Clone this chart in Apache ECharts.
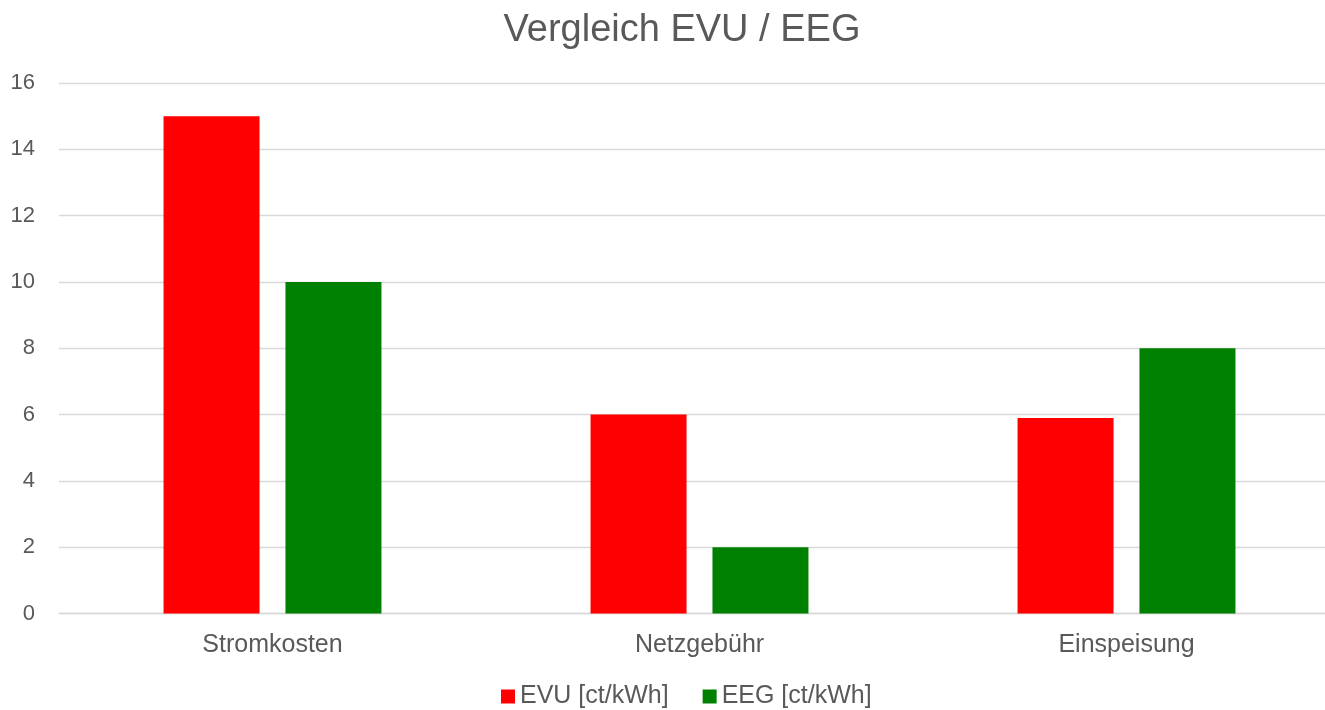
<!DOCTYPE html>
<html>
<head>
<meta charset="utf-8">
<script src="https://cdn.jsdelivr.net/npm/echarts@6/dist/echarts.min.js"></script>
<style>html,body{margin:0;padding:0;background:#fff}#c{width:1325px;height:710px}</style>
</head>
<body>
<div id="c"></div>
<script>
const categories = ['Stromkosten', 'Netzgebühr', 'Einspeisung'];
const evu = [15, 6, 5.9];
const eeg = [10, 2, 8];
const seriesNames = ['EVU [ct/kWh]', 'EEG [ct/kWh]'];
const titleText = 'Vergleich EVU / EEG';

const font = 'Liberation Sans, Arial, sans-serif';
const chart = echarts.init(document.getElementById('c'), null, {renderer: 'canvas'});
chart.setOption({
  animation: false,
  title: {
    text: titleText,
    left: 677, top: 7, textAlign: 'center',
    textStyle: {color: '#595959', fontSize: 38, fontWeight: 'normal', fontFamily: font}
  },
  legend: {
    bottom: -4, left: 496,
    itemWidth: 14, itemHeight: 14, itemGap: 34,
    icon: 'rect',
    textStyle: {color: '#595959', fontSize: 25, fontFamily: font},
    data: seriesNames
  },
  grid: {left: 59, width: 1281, top: 83, height: 530.5, containLabel: false, outerBoundsMode: 'none'},
  xAxis: {
    type: 'category', data: categories,
    axisLine: {lineStyle: {color: '#d9d9d9', width: 1.3}},
    axisTick: {show: false},
    axisLabel: {color: '#595959', fontSize: 25, fontFamily: font, margin: 19}
  },
  yAxis: {
    type: 'value', min: 0, max: 16, interval: 2,
    axisLine: {show: false}, axisTick: {show: false},
    splitLine: {lineStyle: {color: '#d9d9d9', width: 1.3}},
    axisLabel: {color: '#595959', fontSize: 22, fontFamily: font, margin: 24}
  },
  series: [
    {name: seriesNames[0], type: 'bar', data: evu, barWidth: 96, barGap: '27%', itemStyle: {color: '#ff0000'}},
    {name: seriesNames[1], type: 'bar', data: eeg, barWidth: 96, barGap: '27%', itemStyle: {color: '#008000'}}
  ]
});
</script>
</body>
</html>
